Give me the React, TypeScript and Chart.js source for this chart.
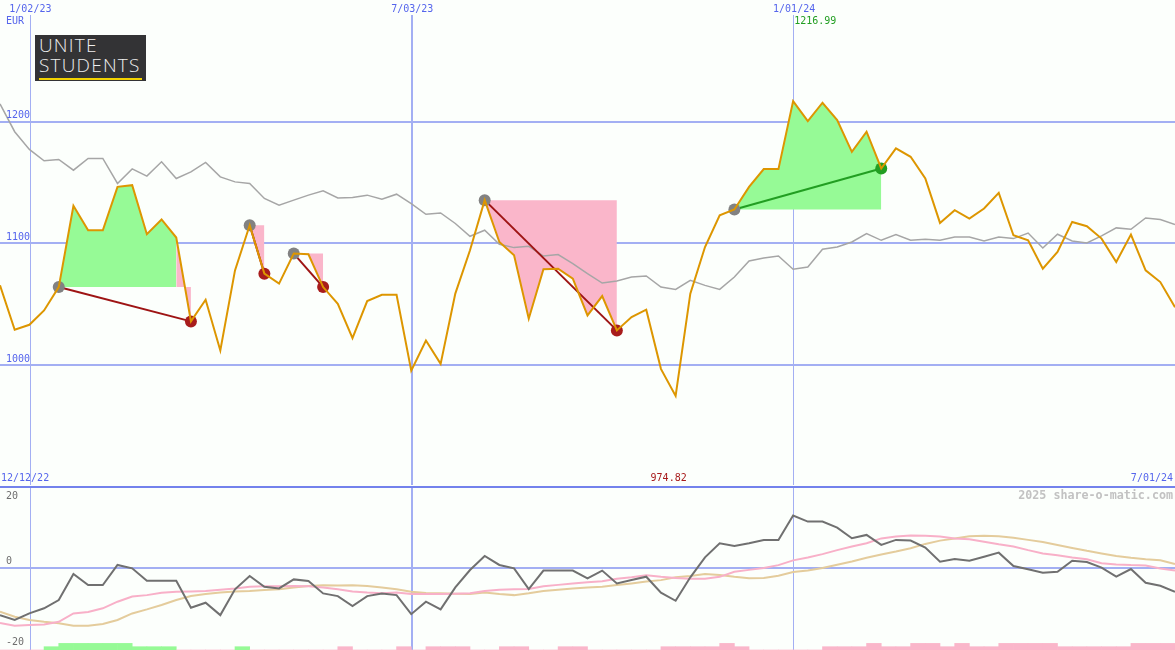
import React, { useEffect, useRef } from 'react';
import { Chart, registerables } from 'chart.js';

Chart.register(...registerables);

// ---------- data (weekly, index 0 = 19 Dec 2022 ... index 80 = 1 Jul 2024) ----------
const price = [
  1065.6, 1029.1, 1033.2, 1045.0, 1064.2, 1130.9, 1110.9, 1110.9, 1146.5, 1147.9,
  1107.6, 1119.7, 1104.9, 1036.0, 1053.8, 1012.1, 1077.9, 1115.0, 1075.2, 1067.0,
  1091.7, 1091.1, 1064.2, 1050.5, 1022.2, 1052.7, 1057.9, 1057.9, 995.6, 1020.3,
  1001.1, 1058.8, 1094.4, 1135.6, 1101.2, 1090.3, 1038.2, 1078.8, 1079.3, 1071.1,
  1040.9, 1056.8, 1028.6, 1039.5, 1045.6, 997.0, 974.82, 1058.8, 1097.1, 1123.2,
  1127.9, 1146.5, 1161.1, 1161.1, 1216.99, 1200.6, 1215.6, 1201.4, 1175.3, 1191.8,
  1161.6, 1178.1, 1171.2, 1153.4, 1116.9, 1127.3, 1120.5, 1128.7, 1141.6, 1106.7,
  1102.6, 1079.3, 1093.0, 1117.7, 1114.2, 1104.0, 1084.8, 1107.3, 1077.9, 1068.3,
  1047.7,
];

const relativeLine = [
  1214.6, 1191.8, 1177.3, 1167.9, 1169.0, 1160.2, 1169.9, 1169.9, 1149.3, 1161.3,
  1155.3, 1167.1, 1153.4, 1158.8, 1166.6, 1154.7, 1150.6, 1149.3, 1137.0, 1131.4,
  1135.6, 1139.7, 1143.2, 1137.4, 1137.8, 1139.7, 1136.4, 1140.5, 1132.8, 1124.0,
  1125.1, 1116.4, 1105.9, 1110.9, 1099.3, 1096.6, 1097.7, 1089.7, 1090.9, 1083.5,
  1075.2, 1067.5, 1069.1, 1072.4, 1073.3, 1064.2, 1062.3, 1069.7, 1065.6, 1062.3,
  1072.4, 1085.6, 1088.1, 1089.7, 1078.8, 1080.7, 1095.2, 1097.1, 1101.2, 1108.1,
  1102.6, 1107.3, 1102.6, 1103.5, 1102.6, 1105.3, 1105.3, 1102.1, 1105.3, 1104.0,
  1108.6, 1096.3, 1107.6, 1102.1, 1100.4, 1106.2, 1112.8, 1111.7, 1121.0, 1119.7,
  1115.6,
];

const momentum = [
  -12.96, -14.3, -12.5, -11.1, -8.85, -1.73, -4.74, -4.74, 0.74, -0.18,
  -3.55, -3.55, -3.55, -10.95, -9.58, -12.96, -5.93, -2.27, -5.2, -5.66,
  -3.2, -3.64, -7.03, -7.76, -10.5, -7.76, -7.03, -7.49, -12.7, -9.3,
  -11.4, -5.4, -0.63, 3.2, 0.74, -0.18, -5.84, -0.8, -0.8, -0.8,
  -2.9, -0.8, -4.3, -3.37, -2.47, -6.85, -9.04, -2.63, 2.84, 6.68,
  5.95, 6.68, 7.59, 7.59, 14.25, 12.6, 12.6, 10.96, 8.04, 8.96,
  6.22, 7.59, 7.4, 5.48, 1.64, 2.38, 1.92, 3.01, 4.11, 0.47,
  -0.44, -1.37, -1.1, 1.92, 1.56, 0, -2.47, -0.36, -4.11, -4.93,
  -6.58,
];

const signalFast = [
  -15.1, -15.9, -15.7, -15.5, -14.8, -12.5, -12.1, -11.1, -9.3, -7.9,
  -7.5, -6.85, -6.6, -6.5, -6.4, -6.0, -5.7, -5.2, -5.1, -5.1,
  -5.0, -5.1, -5.4, -5.9, -6.5, -6.8, -7.0, -6.8, -7.2, -7.2,
  -7.2, -7.1, -7.0, -6.4, -6.0, -5.9, -5.8, -5.1, -4.7, -4.3,
  -4.0, -3.7, -3.0, -2.6, -2.1, -2.5, -2.8, -3.0, -3.0, -2.5,
  -1.1, -0.6, -0.1, 0.7, 2.0, 2.8, 3.7, 4.8, 5.8, 6.7,
  8.0, 8.5, 8.8, 8.7, 8.5, 8.0, 7.8, 7.1, 6.4, 5.8,
  4.8, 3.9, 3.4, 2.8, 2.3, 1.2, 0.9, 0.7, 0.6, -0.2,
  -0.8,
];

const signalSlow = [
  -12.0, -13.4, -14.3, -14.8, -15.2, -15.9, -15.9, -15.4, -14.3, -12.5,
  -11.4, -10.2, -8.85, -7.76, -7.2, -6.8, -6.5, -6.4, -6.1, -5.9,
  -5.4, -5.0, -4.8, -4.9, -4.8, -5.0, -5.4, -5.9, -6.6, -6.9,
  -7.0, -7.1, -7.2, -6.8, -7.2, -7.5, -7.0, -6.4, -6.0, -5.7,
  -5.4, -5.2, -4.75, -4.3, -3.8, -3.4, -2.6, -2.3, -1.7, -2.0,
  -2.5, -2.9, -2.8, -2.2, -1.2, -0.8, -0.1, 0.8, 1.7, 2.7,
  3.6, 4.4, 5.3, 6.5, 7.4, 8.0, 8.6, 8.7, 8.6, 8.2,
  7.6, 7.0, 6.2, 5.4, 4.6, 3.9, 3.2, 2.7, 2.3, 2.0,
  1.0,
];

// one value per week interval [i, i+1]: + green, - pink, magnitude 1 or 2
const weekSignal = [
  0, 0, 0, 1, 2, 2, 2, 2, 2, 1,
  1, 1, 0, 0, 0, 0, 1, 0, 0, 0,
  0, 0, 0, -1, 0, 0, 0, -1, 0, -1,
  -1, -1, 0, 0, -1, -1, 0, 0, -1, -1,
  0, 0, 0, 0, 0, -1, -1, -1, -1, -2,
  -1, 0, 0, 0, 0, 0, -1, -1, -1, -2,
  -1, -1, -2, -2, -1, -2, -1, -1, -2, -2,
  -2, -2, -1, -1, -1, -1, -1, -2, -2, -2,
];

const tradeEntry = [4, 17, 20, 33, 50];
const tradeExit = [13, 18, 22, 42, 60];

const dateLineIdx = [2, 28, 54];
const dateLineLabels = ['1/02/23', '7/03/23', '1/01/24'];
const dateLineWidths = [1, 2, 1];
const rangeStartLabel = '12/12/22';
const rangeEndLabel = '7/01/24';
const priceTicks = [1000, 1100, 1200];
const indicatorTicks = [20, 0, -20];
const currency = 'EUR';
const watermark = '2025 share-o-matic.com';

// ---------- styles ----------
const W = 1175;
const TOP_H = 485;
const BOT_H = 165;
const BG = '#fcfffc';
const GRID = '#a3aff3';
const SEP = '#7382ec';
const LABEL_BLUE = '#5565ec';
const ORANGE = 'rgb(221,150,0)';
const GRAY_LINE = '#a6a6a6';
const FILL_GREEN = 'rgb(150,250,150)';
const FILL_PINK = 'rgb(250,182,202)';
const MARK_GRAY = 'rgb(130,130,130)';
const MARK_RED = 'rgb(168,28,28)';
const MARK_GREEN = 'rgb(34,158,34)';
const LINE_RED = 'rgb(158,20,20)';
const MONO = '"DejaVu Sans Mono", "Liberation Mono", monospace';

const xy = (arr: number[]) => arr.map((v, i) => ({ x: i, y: v }));

function vLines(chart: any, yStart: number) {
  const { ctx, scales } = chart;
  ctx.fillStyle = GRID;
  dateLineIdx.forEach((k, i) => {
    const px = Math.round(scales.x.getPixelForValue(k) + 0.3);
    const w = dateLineWidths[i];
    ctx.fillRect(px - (w === 2 ? 1 : 0), yStart, w, chart.height - yStart);
  });
}

function buildTopDatasets() {
  const ds: any[] = [];
  // trade fills
  tradeEntry.forEach((entry, t) => {
    const exit = tradeExit[t];
    const base = price[entry];
    let segStart = entry;
    let cur: string | null = null;
    const push = (a: number, b: number, color: string) => {
      const data = [];
      for (let k = a; k <= b; k++) data.push({ x: k, y: price[k] });
      ds.push({
        data,
        borderColor: 'transparent',
        borderWidth: 0,
        pointRadius: 0,
        fill: { target: { value: base }, above: color, below: color },
        order: 6,
      });
    };
    for (let i = entry; i < exit; i++) {
      const col = price[i + 1] >= base ? FILL_GREEN : FILL_PINK;
      if (cur === null) {
        cur = col;
        segStart = i;
      } else if (col !== cur) {
        push(segStart, i, cur);
        cur = col;
        segStart = i;
      }
    }
    if (cur) push(segStart, exit, cur);
  });
  // relative performance line
  ds.push({
    data: xy(relativeLine),
    borderColor: GRAY_LINE,
    borderWidth: 1.5,
    pointRadius: 0,
    fill: false,
    order: 5,
  });
  // trade connection lines
  tradeEntry.forEach((entry, t) => {
    const exit = tradeExit[t];
    const win = price[exit] > price[entry];
    ds.push({
      data: [
        { x: entry, y: price[entry] },
        { x: exit, y: price[exit] },
      ],
      borderColor: win ? MARK_GREEN : LINE_RED,
      borderWidth: 2,
      pointRadius: 0,
      fill: false,
      order: 4,
    });
  });
  // entry markers
  ds.push({
    data: tradeEntry.map((k) => ({ x: k, y: price[k] })),
    showLine: false,
    pointRadius: 6,
    pointBorderWidth: 0,
    pointBackgroundColor: MARK_GRAY,
    borderColor: 'transparent',
    order: 3,
  });
  // exit markers
  ds.push({
    data: tradeExit.map((k) => ({ x: k, y: price[k] })),
    showLine: false,
    pointRadius: 6,
    pointBorderWidth: 0,
    pointBackgroundColor: tradeExit.map((k, t) =>
      price[k] > price[tradeEntry[t]] ? MARK_GREEN : MARK_RED
    ),
    borderColor: 'transparent',
    order: 2,
  });
  // price
  ds.push({
    data: xy(price),
    borderColor: ORANGE,
    borderWidth: 2,
    pointRadius: 0,
    fill: false,
    order: 0,
  });
  return ds;
}

const topPlugin = {
  id: 'topDecor',
  beforeDraw(chart: any) {
    const { ctx } = chart;
    ctx.save();
    ctx.fillStyle = BG;
    ctx.fillRect(0, 0, chart.width, chart.height);
    ctx.restore();
  },
  beforeDatasetsDraw(chart: any) {
    const { ctx, scales } = chart;
    ctx.save();
    ctx.fillStyle = GRID;
    priceTicks.forEach((v) => {
      const py = Math.round(scales.y.getPixelForValue(v));
      ctx.fillRect(0, py - 1, chart.width, 2);
    });
    vLines(chart, 15);
    ctx.restore();
  },
  afterDraw(chart: any) {
    const { ctx, scales } = chart;
    ctx.save();
    ctx.font = `10px ${MONO}`;
    ctx.textBaseline = 'middle';
    ctx.fillStyle = LABEL_BLUE;
    ctx.textAlign = 'center';
    dateLineIdx.forEach((k, i) => {
      ctx.fillText(dateLineLabels[i], scales.x.getPixelForValue(k) + 1, 9);
    });
    ctx.textAlign = 'left';
    ctx.fillText(currency, 6, 21);
    priceTicks.forEach((v) => {
      ctx.fillText(String(v), 6, scales.y.getPixelForValue(v) - 6);
    });
    ctx.fillText(rangeStartLabel, 1, 478.5);
    ctx.textAlign = 'right';
    ctx.fillText(rangeEndLabel, 1173, 478.5);
    // max / min
    let maxI = 0;
    let minI = 0;
    price.forEach((v, i) => {
      if (v > price[maxI]) maxI = i;
      if (v < price[minI]) minI = i;
    });
    ctx.textAlign = 'left';
    ctx.fillStyle = MARK_GREEN;
    ctx.fillText(price[maxI].toFixed(2), scales.x.getPixelForValue(maxI) + 1, 21);
    ctx.textAlign = 'center';
    ctx.fillStyle = MARK_RED;
    ctx.fillText(price[minI].toFixed(2), scales.x.getPixelForValue(minI) - 7, 478.5);
    ctx.restore();
  },
};

const botPlugin = {
  id: 'botDecor',
  beforeDraw(chart: any) {
    const { ctx } = chart;
    ctx.save();
    ctx.fillStyle = BG;
    ctx.fillRect(0, 0, chart.width, chart.height);
    ctx.restore();
  },
  beforeDatasetsDraw(chart: any) {
    const { ctx, scales } = chart;
    ctx.save();
    ctx.fillStyle = GRID;
    const py = Math.round(scales.y.getPixelForValue(0));
    ctx.fillRect(0, py - 1, chart.width, 2);
    vLines(chart, 3);
    ctx.fillStyle = SEP;
    ctx.fillRect(0, 1, chart.width, 2);
    ctx.restore();
  },
  afterDraw(chart: any) {
    const { ctx } = chart;
    ctx.save();
    ctx.font = `10px ${MONO}`;
    ctx.textBaseline = 'middle';
    ctx.fillStyle = '#6e6e6e';
    ctx.textAlign = 'left';
    const labelY = [11, 76.7, 157.3];
    indicatorTicks.forEach((v, i) => ctx.fillText(String(v), 6, labelY[i]));
    ctx.font = `bold 11.7px ${MONO}`;
    ctx.fillStyle = '#c2c2c2';
    ctx.textAlign = 'right';
    ctx.fillText(watermark, 1173, 11);
    ctx.restore();
  },
};

const baseOptions = {
  responsive: false,
  animation: false as const,
  devicePixelRatio: 1,
  events: [] as any[],
  layout: { padding: 0, autoPadding: false },
  plugins: { legend: { display: false }, tooltip: { enabled: false } },
};

export default function App() {
  const topRef = useRef<HTMLCanvasElement>(null);
  const botRef = useRef<HTMLCanvasElement>(null);

  useEffect(() => {
    const top = new Chart(topRef.current as HTMLCanvasElement, {
      type: 'line',
      data: { datasets: buildTopDatasets() },
      options: {
        ...baseOptions,
        scales: {
          x: { type: 'linear', min: 0, max: 80, display: false, offset: false },
          y: { type: 'linear', min: 901.6, max: 1300, display: false },
        },
        elements: { line: { tension: 0 } },
      } as any,
      plugins: [topPlugin],
    });

    const bot = new Chart(botRef.current as HTMLCanvasElement, {
      type: 'line',
      data: {
        datasets: [
          {
            type: 'bar',
            yAxisID: 'yb',
            data: weekSignal.map((s, i) => ({ x: i + 0.5, y: Math.abs(s) })),
            backgroundColor: weekSignal.map((s) => (s > 0 ? FILL_GREEN : FILL_PINK)),
            borderWidth: 0,
            barPercentage: 1,
            categoryPercentage: 1,
            order: 10,
          } as any,
          {
            data: xy(signalSlow),
            borderColor: 'rgb(228,204,156)',
            borderWidth: 2,
            pointRadius: 0,
            fill: false,
            order: 3,
          },
          {
            data: xy(signalFast),
            borderColor: 'rgb(248,176,200)',
            borderWidth: 2,
            pointRadius: 0,
            fill: false,
            order: 2,
          },
          {
            data: xy(momentum),
            borderColor: 'rgb(112,112,112)',
            borderWidth: 2,
            pointRadius: 0,
            fill: false,
            order: 1,
          },
        ],
      },
      options: {
        ...baseOptions,
        scales: {
          x: { type: 'linear', min: 0, max: 80, display: false, offset: false },
          y: { type: 'linear', min: -22.5, max: 22.6, display: false },
          yb: { type: 'linear', min: 0, max: 50, display: false },
        },
        elements: { line: { tension: 0 } },
      } as any,
      plugins: [botPlugin],
    });

    return () => {
      top.destroy();
      bot.destroy();
    };
  }, []);

  return (
    <div
      style={{
        position: 'fixed',
        left: 0,
        top: 0,
        width: W,
        height: 650,
        background: BG,
        overflow: 'hidden',
      }}
    >
      <canvas
        ref={topRef}
        width={W}
        height={TOP_H}
        style={{ position: 'absolute', left: 0, top: 0, width: W, height: TOP_H }}
      />
      <canvas
        ref={botRef}
        width={W}
        height={BOT_H}
        style={{ position: 'absolute', left: 0, top: TOP_H, width: W, height: BOT_H }}
      />
      <div
        style={{
          position: 'absolute',
          left: 35,
          top: 35,
          width: 111,
          height: 46,
          background: '#333335',
          overflow: 'hidden',
          fontFamily: '"Open Sans", "DejaVu Sans", sans-serif',
          fontWeight: 300,
          color: '#eeeeee',
          fontSize: 19,
          lineHeight: '19px',
          letterSpacing: 1.2,
        }}
      >
        <div style={{ position: 'absolute', left: 4, top: 1 }}>UNITE</div>
        <div style={{ position: 'absolute', left: 4, top: 21 }}>STUDENTS</div>
        <div
          style={{
            position: 'absolute',
            left: 4,
            top: 42.7,
            width: 103,
            height: 2.3,
            background: '#f2d200',
          }}
        />
      </div>
    </div>
  );
}
